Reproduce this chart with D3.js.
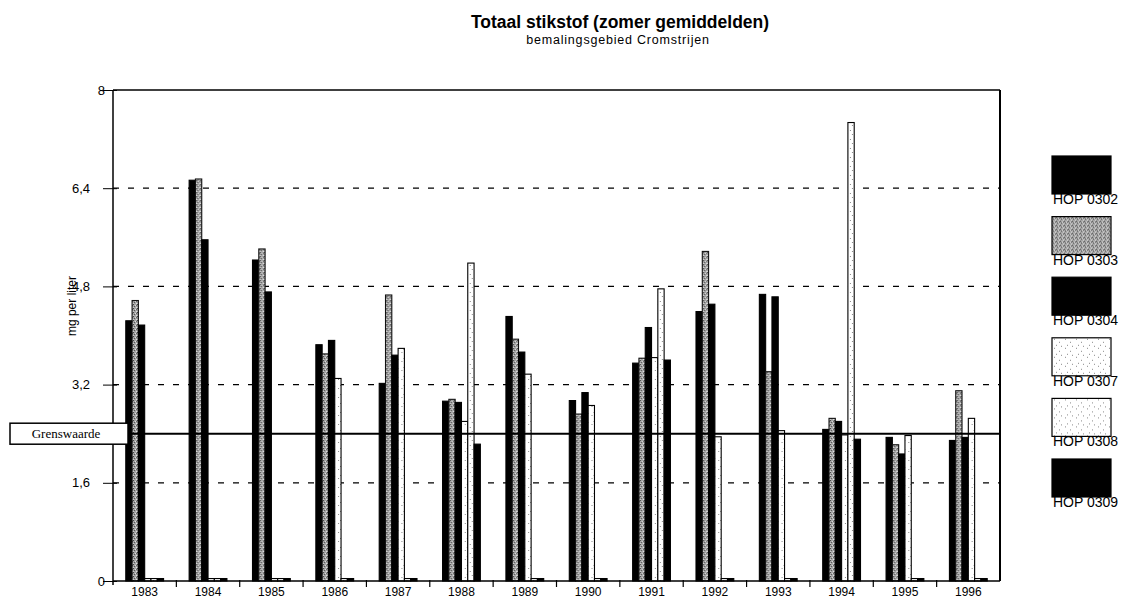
<!DOCTYPE html>
<html>
<head>
<meta charset="utf-8">
<script src="https://cdn.jsdelivr.net/npm/d3@7"></script>
<style>
  body { margin: 0; background: #fff; }
  svg { display: block; }
</style>
</head>
<body>
<svg id="chart" width="1124" height="605"></svg>
<script>
// ---- data ----
const years = ["1983","1984","1985","1986","1987","1988","1989","1990","1991","1992","1993","1994","1995","1996"];
const seriesNames = ["HOP 0302","HOP 0303","HOP 0304","HOP 0307","HOP 0308","HOP 0309"];
const hop0302 = [4.24, 6.53, 5.23, 3.85, 3.22, 2.93, 4.31, 2.94, 3.55, 4.39, 4.67, 2.47, 2.34, 2.29];
const hop0303 = [4.57, 6.55, 5.41, 3.70, 4.66, 2.96, 3.94, 2.72, 3.63, 5.37, 3.41, 2.65, 2.22, 3.10];
const hop0304 = [4.17, 5.56, 4.71, 3.92, 3.68, 2.91, 3.73, 3.07, 4.13, 4.51, 4.63, 2.60, 2.07, 2.34];
const hop0307 = [0.04, 0.04, 0.04, 3.30, 3.79, 2.60, 3.37, 2.86, 3.64, 2.35, 2.45, 2.38, 2.37, 2.65];
const hop0308 = [0.04, 0.04, 0.04, 0.04, 0.04, 5.18, 0.04, 0.04, 4.76, 0.04, 0.04, 7.47, 0.04, 0.04];
const hop0309 = [0.04, 0.04, 0.04, 0.04, 0.04, 2.23, 0.04, 0.04, 3.60, 0.04, 0.04, 2.31, 0.04, 0.04];
const yTicks = [0, 1.6, 3.2, 4.8, 6.4, 8];
const yTickLabels = ["0", "1,6", "3,2", "4,8", "6,4", "8"];
const grenswaarde = 2.4;
const title = "Totaal stikstof (zomer gemiddelden)";
const subtitle = "bemalingsgebied Cromstrijen";
const yLabel = "mg per liter";

const seriesValues = [hop0302, hop0303, hop0304, hop0307, hop0308, hop0309];

// ---- layout ----
const SANS = "'Liberation Sans', Arial, Helvetica, sans-serif";
const SERIF = "'Liberation Serif', 'Times New Roman', serif";
const svg = d3.select("#chart");
const pLeft = 113, pRight = 1000, pTop = 90, pBottom = 581;

const defs = svg.append("defs");
// stippled gray pattern
const pg = defs.append("pattern").attr("id","grayPat").attr("patternUnits","userSpaceOnUse")
  .attr("width",4).attr("height",4);
pg.append("rect").attr("width",4).attr("height",4).attr("fill","#a4a4a4");
[[0,0,"#444"],[2,1,"#ddd"],[1,2,"#555"],[3,3,"#e0e0e0"],[3,1,"#666"],[0,3,"#ccc"]].forEach(([x,y,c]) =>
  pg.append("rect").attr("x",x).attr("y",y).attr("width",1).attr("height",1).attr("fill",c));
// speckled white pattern
const pw = defs.append("pattern").attr("id","whitePat").attr("patternUnits","userSpaceOnUse")
  .attr("width",11).attr("height",9);
pw.append("rect").attr("width",11).attr("height",9).attr("fill","#fff");
[[2,1],[7,4],[4,7],[9,8]].forEach(([x,y]) =>
  pw.append("rect").attr("x",x).attr("y",y).attr("width",1).attr("height",1).attr("fill","#888"));

const fills = ["#000", "url(#grayPat)", "#000", "url(#whitePat)", "url(#whitePat)", "#000"];
const strokes = ["#000", "#111", "#000", "#000", "#000", "#000"];

const x0 = d3.scaleBand().domain(years).range([pLeft, pRight]).paddingInner(0).paddingOuter(0);
const x1 = d3.scaleBand().domain(seriesNames).range([0, x0.bandwidth()]).paddingInner(0).paddingOuter(2.03);
const y = d3.scaleLinear().domain([0, 8]).range([pBottom, pTop]);

// titles
svg.append("text").attr("x", 620).attr("y", 28).attr("text-anchor","middle")
  .attr("font-family", SANS).attr("font-size", 17.5).attr("font-weight","bold").text(title);
svg.append("text").attr("x", 618).attr("y", 44).attr("text-anchor","middle")
  .attr("font-family", SANS).attr("font-size", 12.5).attr("letter-spacing", 0.8).text(subtitle);

// gridlines
svg.append("g").selectAll("line").data(yTicks.filter(d => d > 0 && d < 8)).join("line")
  .attr("x1", pLeft).attr("x2", pRight)
  .attr("y1", d => y(d)).attr("y2", d => y(d))
  .attr("stroke","#000").attr("stroke-width",1.2).attr("stroke-dasharray","6,9");

// plot frame top & right
svg.append("line").attr("x1", pLeft).attr("x2", pRight).attr("y1", pTop).attr("y2", pTop)
  .attr("stroke","#000").attr("stroke-width",1.5);
svg.append("line").attr("x1", pRight).attr("x2", pRight).attr("y1", pTop).attr("y2", pBottom)
  .attr("stroke","#000").attr("stroke-width",2);

// bars
const groups = svg.append("g").selectAll("g").data(years).join("g")
  .attr("transform", d => `translate(${x0(d)},0)`);
groups.selectAll("rect").data((yr, i) => seriesNames.map((s, k) => ({s, k, v: seriesValues[k][i]})))
  .join("rect")
  .attr("x", d => x1(d.s))
  .attr("width", x1.bandwidth())
  .attr("y", d => y(d.v))
  .attr("height", d => y(0) - y(d.v))
  .attr("fill", d => fills[d.k])
  .attr("stroke", d => strokes[d.k])
  .attr("stroke-width", 1.1);

// y axis (line + ticks from the axis generator, labels placed from the same scale)
const yAxis = d3.axisLeft(y).tickValues(yTicks).tickSize(10).tickFormat("");
const ya = svg.append("g").attr("transform", `translate(${pLeft},0)`).call(yAxis);
ya.select(".domain").attr("stroke","#000").attr("stroke-width",1.5).attr("d", `M0,${pTop}V${pBottom+4}`);
ya.selectAll(".tick line").attr("x1", 4).attr("x2", -10).attr("stroke","#000");
svg.append("g").selectAll("text").data(yTicks).join("text")
  .attr("x", (d, i) => yTickLabels[i].includes(",") ? pLeft - 23 : pLeft - 8)
  .attr("y", d => y(d)).attr("dy", "0.35em")
  .attr("text-anchor", "end")
  .attr("font-family", SANS).attr("font-size", 13)
  .text((d, i) => yTickLabels[i]);

// x axis
const xAxis = d3.axisBottom(x0).tickSize(0).tickPadding(6);
const xa = svg.append("g").attr("transform", `translate(0,${pBottom})`).call(xAxis)
  .attr("font-family", SANS).attr("font-size", 12);
xa.select(".domain").attr("stroke","#000").attr("stroke-width",1.5).attr("d", `M${pLeft},0H${pRight}`);
xa.selectAll(".tick text").attr("fill","#000");
// boundary ticks between groups
svg.append("g").selectAll("line").data(years.slice(1)).join("line")
  .attr("x1", d => x0(d)).attr("x2", d => x0(d))
  .attr("y1", pBottom - 1).attr("y2", pBottom + 6)
  .attr("stroke","#000").attr("stroke-width",1.2);

// y label
svg.append("text").attr("transform", `translate(76,${y(4.48)}) rotate(-90)`)
  .attr("text-anchor","middle").attr("font-family", SANS).attr("font-size", 12).text(yLabel);

// grenswaarde line + box
const gy = y(grenswaarde);
svg.append("line").attr("x1", 128).attr("x2", pRight).attr("y1", gy).attr("y2", gy)
  .attr("stroke","#000").attr("stroke-width",2);
svg.append("rect").attr("x", 10).attr("y", gy - 10.5).attr("width", 118).attr("height", 21)
  .attr("fill","#fff").attr("stroke","#000").attr("stroke-width",1.5);
svg.append("text").attr("x", 66).attr("y", gy + 4.5).attr("text-anchor","middle")
  .attr("font-family", SERIF).attr("font-size", 13).text("Grenswaarde");

// legend
const legend = svg.append("g").selectAll("g").data(seriesNames).join("g")
  .attr("transform", (d, i) => `translate(1052,${156 + i * 60.6})`);
legend.append("rect").attr("width", 59).attr("height", 38)
  .attr("fill", (d, i) => fills[i]).attr("stroke","#000").attr("stroke-width",1.2);
legend.append("text").attr("x", 1).attr("y", 48)
  .attr("font-family", SANS).attr("font-size", 14).text(d => d);
</script>
</body>
</html>
